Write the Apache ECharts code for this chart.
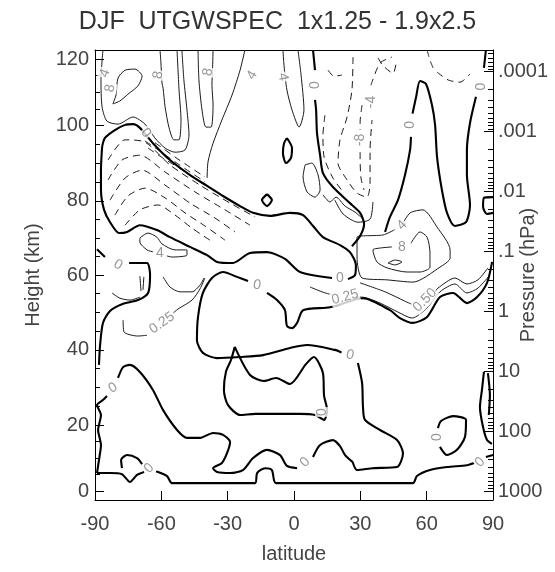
<!DOCTYPE html>
<html>
<head>
<meta charset="utf-8">
<script src="https://cdn.jsdelivr.net/npm/echarts@6/dist/echarts.min.js"></script>
<style>
  html, body { margin: 0; padding: 0; background: #fff; }
  #chart { width: 555px; height: 572px; }
</style>
</head>
<body>
<div id="chart"></div>
<script>
// DJF UTGWSPEC difference, 1x1.25 minus 1.9x2.5, latitude / log-pressure cross section.
// Vertical coordinate: log-pressure altitude z = H ln(1000/p) in km.
const H = 6.95;
const FONT = '"Liberation Sans", Arial, Helvetica, sans-serif';

// ---- axes ----
const latTicks = [-90, -60, -30, 0, 30, 60, 90];
const pressureTicks = [1000, 100, 10, 1, 0.1, 0.01, 0.001, 0.0001];
const pressureTickText = ['1000', '100', '10', '1', '.1', '.01', '.001', '.0001'];
const heightTicks = [0, 20, 40, 60, 80, 100, 120];
const heightTickZ = [0, 17.6, 37.7, 57.7, 77.5, 97.6, 115.4];
const zRange = [-2.4, 117.8];

// ---- zero contours (thick) : [latitude, z km] ----
const zeroGround = [[-89.1,4.8],[-83.2,4.8],[-77.8,4.5],[-74.2,2.4],[-71.0,4.3],[-67.8,5.1]];
const zeroGroundMid = [[-62.4,5.3],[-57.4,4.0],[-55.2,2.1],[-17.6,2.1],[-16.7,4.8],[-13.1,6.1],[-10.0,5.6],[-8.1,2.1],[53.8,2.1],[55.6,4.0],[61.5,5.6],[69.2,6.4],[78.2,6.9],[81.4,7.5]];
const zeroGroundEnd = [[86.8,9.1],[90,9.6]];
const zeroGroundLoop = [[-77.8,6.1],[-78.2,8.3],[-75.5,9.6],[-71.0,8.8],[-68.7,7.2]];
const zeroTropoSH = [[-89.1,4.8],[-88.2,8.3],[-87.3,12.3],[-88.6,16.3],[-87.3,20.3],[-89.1,23.0],[-86.4,24.3],[-84.6,25.4]];
const zeroStratSH = [[-79.6,30.2],[-77.3,33.1],[-74.2,33.7],[-69.7,31.8],[-63.8,27.0],[-59.2,21.6],[-52.9,16.3],[-48.4,14.2],[-42.5,14.2],[-36.6,15.5],[-32.1,15.0],[-28.9,13.1],[-30.3,10.1],[-32.6,7.5],[-36.6,6.1],[-34.8,5.1],[-28.9,4.8],[-23.1,5.6],[-18.5,8.8],[-12.2,11.0],[-6.3,9.6],[-3.2,6.7],[1.4,6.1]];
const zeroLowEq = [[8.6,9.1],[11.8,12.3],[17.6,13.6],[20.8,12.0],[23.1,9.6],[26.5,7.8]];
const zeroStratLoop = [[-26.8,38.5],[-28.5,35.0],[-30.8,31.8],[-31.7,27.0],[-29.9,23.0],[-24.4,20.3],[-17.6,20.6],[-6.3,20.6],[2.7,20.6],[9.5,20.3],[13.6,19.0],[15.0,21.6],[13.6,25.4],[13.1,31.5],[9.0,35.8],[5.4,33.9],[-1.8,28.6],[-8.1,30.2],[-13.6,29.4],[-19.9,31.0],[-26.8,38.5]];
const zeroMidBand = [[89.6,61.2],[87.3,55.6],[82.8,51.8],[78.2,50.2],[71.9,52.9],[66.0,51.8],[60.2,46.5],[53.8,44.9],[47.9,46.2],[43.4,48.3],[31.2,51.5],[16.3,49.1],[4.1,48.3],[1.4,44.9],[-0.9,43.5],[-3.2,44.1],[-4.1,48.3],[-7.7,51.0],[-12.2,52.9]];
const zeroMidBandB = [[-20.8,56.1],[-25.8,57.2],[-32.1,58.5],[-37.1,56.9],[-41.2,52.9],[-43.4,46.5],[-43.9,40.3],[-41.2,36.9],[-34.8,35.5],[-24.4,35.8],[-14.0,36.3],[-1.8,38.2],[5.9,39.0],[18.5,37.7],[21.5,37.0]];
const zeroMidBandC = [[28.9,34.2],[30.8,28.8],[31.2,22.4],[32.1,19.0],[38.9,16.3],[46.6,13.6],[49.3,10.1],[46.6,6.4],[35.7,6.1],[28.5,5.6],[26.5,7.8]];
const zeroMesoSH = [[-86.8,91.9],[-85.5,94.3],[-81.0,96.4],[-76.4,97.8],[-72.8,98.0],[-69.7,97.0],[-63.8,92.9],[-56.1,88.4],[-47.0,84.4],[-39.3,81.5],[-32.1,78.8],[-24.4,76.1],[-18.5,74.3],[-10.9,73.5],[-1.8,74.3],[4.1,73.7],[8.6,70.8],[13.1,67.8],[20.8,65.7],[25.3,63.8],[28.0,60.4],[27.6,57.7],[24.4,56.6]];
const zeroMesoSHb = [[17.2,56.9],[2.7,58.5],[-4.1,62.0],[-12.2,63.8],[-19.9,63.6],[-27.6,60.9],[-34.8,61.2],[-39.3,63.0],[-47.0,65.2],[-56.1,67.8],[-62.0,69.7],[-69.7,71.0],[-75.5,69.2],[-79.1,68.9],[-83.2,71.8],[-85.9,75.1],[-87.3,80.4],[-87.3,85.7],[-86.8,91.9]];
const zeroEquatorTop = [[8.6,117.8],[9.5,112.4]];
const zeroEquator = [[9.5,104.5],[10.0,101.8],[10.4,95.6],[11.8,89.7],[13.1,84.9],[17.6,81.2],[25.3,76.9],[29.9,74.3],[31.7,71.3],[29.9,68.1],[26.2,65.4]];
const zeroSpike = [[41.2,69.2],[43.4,73.2],[47.0,77.7],[50.2,84.4],[52.5,91.1],[52.9,94.6]];
const zeroSpikeB = [[53.6,100.8],[55.2,105.2],[57.0,109.5],[59.7,108.7],[62.4,103.1],[63.8,97.8],[64.7,89.2],[66.9,80.4],[69.2,74.3],[72.8,70.8],[77.8,71.8],[79.6,76.4],[78.2,84.4],[78.2,91.1],[79.6,98.3],[82.3,105.3]];
const zeroSpikeTop = [[85.9,113.0],[86.8,117.8]];
const zeroLoopNH = [[66.0,11.8],[69.2,9.6],[73.7,11.0],[77.3,14.4],[77.8,19.0],[71.9,20.0],[66.5,18.7],[65.1,16.8]];
const zeroEdgeNH = [[85.9,31.8],[85.0,27.0],[84.1,22.4],[85.5,17.1],[87.3,13.6],[89.5,12.6]];
const zeroEdgeNHb = [[87.7,31.5],[88.6,25.6],[88.1,20.3]];
const zeroEdgeMeso = [[90,78.5],[85.9,78.3],[85.5,75.9],[87.3,74.0],[90,74.3]];
const zeroEdgeSH = [[-89.1,64.6],[-85.5,62.5]];
const zeroEdgeSHb = [[-74.6,60.9],[-66.5,60.9],[-65.1,57.7],[-66.0,52.9],[-70.6,51.0],[-77.8,49.9],[-83.2,48.1],[-86.4,44.9],[-87.7,39.0],[-88.2,33.7]];
const zeroDiamond = [[-12.2,79.3],[-10.0,77.7],[-12.2,76.1],[-14.5,77.7],[-12.2,79.3]];
const zeroOval = [[-3.2,94.3],[-0.9,91.6],[-1.4,88.9],[-3.6,87.6],[-5.0,90.3],[-4.5,92.9],[-3.2,94.3]];

// ---- positive contours (thin solid) ----
const pos4SH = [[-86.4,117.8],[-87.3,109.8],[-86.8,102.6],[-84.6,98.8],[-79.6,98.0],[-72.8,99.9],[-67.4,98.0],[-62.9,94.3],[-58.3,91.6],[-53.8,90.5],[-49.3,91.1],[-47.5,95.1],[-48.4,101.8],[-49.8,109.8],[-50.7,117.8]];
const pos8SHa = [[-81.9,103.4],[-80.5,105.8],[-79.6,110.3],[-76.4,112.4],[-71.9,112.7],[-68.7,110.8],[-70.6,108.2],[-75.1,106.0],[-78.7,104.2],[-81.9,103.4]];
const pos8SHb = [[-60.6,117.8],[-60.2,114.6],[-59.7,109.0],[-59.2,107.6],[-58.3,102.6],[-56.5,97.0],[-54.3,93.8],[-52.0,93.8],[-51.1,99.1],[-52.0,107.1],[-52.9,117.8]];
const pos8SHc = [[-43.4,117.8],[-43.0,109.8],[-41.6,101.8],[-39.8,97.2],[-37.5,97.2],[-36.6,103.1],[-37.1,108.4],[-36.8,113.5],[-36.6,117.8]];
const pos4Eq = [[-22.2,117.8],[-24.4,112.4],[-28.0,105.8],[-32.6,99.1],[-36.6,92.9],[-38.9,87.9],[-39.3,83.6]];
const pos4EqB = [[-5.0,117.8],[-4.5,113.6],[-3.2,107.1],[-0.9,101.8],[2.3,97.2],[4.5,101.8],[3.2,111.1],[1.8,117.8]];
const posLoopEq = [[5.0,87.1],[8.1,87.6],[10.9,84.4],[11.8,80.4],[9.5,78.5],[5.9,79.9],[4.1,83.9],[5.0,87.1]];
const posWaveEq = [[13.1,79.1],[16.3,77.2],[19.0,78.5],[23.1,76.1],[27.6,74.5],[30.8,72.9]];
const posUEq = [[18.5,77.7],[22.2,74.0],[28.9,71.8],[34.4,72.6],[35.7,77.2]];
const pos4NH = [[48.8,71.0],[52.5,74.3],[58.3,75.1],[64.7,70.5],[70.6,64.4],[70.6,62.2],[66.0,59.8],[53.8,55.8],[42.1,56.4],[30.8,56.9],[28.5,62.5],[28.5,67.8],[40.3,68.4],[45.5,69.8]];
const pos8NH = [[52.9,66.2],[57.0,69.2],[60.2,67.8],[61.5,63.6],[61.5,59.8],[57.0,58.5],[51.1,58.5],[42.1,59.6],[37.5,61.2],[35.7,64.4],[38.9,64.9],[44.3,65.2]];
const pos8NHcore = [[42.5,60.9],[45.7,61.7],[48.8,61.2],[45.7,60.4],[42.5,60.9]];
const pos025NH = [[7.2,54.5],[12.7,53.2],[17.0,52.4]];
const pos025NHb = [[28.0,51.8],[30.8,51.8],[38.9,50.2],[47.0,47.8],[53.4,46.2],[60.2,48.9],[66.0,53.2],[72.8,55.3],[78.2,52.9],[83.2,54.2],[88.6,57.7]];
const pos050NH = [[29.9,55.6],[41.2,53.2],[50.2,50.7],[53.5,49.8]];
const pos050NHb = [[63.5,53.0],[65.1,54.2],[72.8,56.9],[78.2,55.3],[83.2,56.4],[87.7,59.6]];
const pos025SH = [[-77.3,45.7],[-76.9,42.5],[-70.6,41.4],[-66.5,41.6]];
const pos025SHb = [[-54.5,47.6],[-52.5,48.6],[-46.1,51.0],[-42.5,54.0],[-40.3,56.9]];
const pos4SHband = [[-69.7,67.6],[-66.0,68.9],[-62.0,67.8],[-59.7,66.0],[-53.8,64.4],[-48.4,64.4],[-48.4,63.0],[-55.2,62.5],[-57.5,62.8]];
const pos4SHbandB = [[-63.8,63.9],[-66.5,64.4],[-69.7,66.5],[-69.7,67.6]];
const posUSH = [[-59.2,57.2],[-56.1,54.5],[-51.6,53.2],[-46.1,53.2],[-42.5,55.0],[-40.7,56.9]];
const posBarsSH = [[-69.7,57.4],[-69.2,53.4]];
const posBarsSHb = [[-67.9,57.2],[-68.3,53.7]];
const posSmallSH = [[-82.3,52.9],[-78.7,51.5],[-74.2,51.0],[-69.7,51.8]];

// ---- negative contours (thin dashed) ----
const neg4NH = [[26.7,115.9],[26.2,107.1],[24.0,99.9],[20.8,93.8],[19.9,87.6],[24.0,83.1],[28.5,79.6],[33.0,78.5],[34.4,82.3],[34.4,91.1],[35.3,99.1]];
const neg4NHb = [[34.8,108.4],[38.9,114.3],[44.3,115.9]];
const neg8NH = [[30.8,103.1],[29.9,98.6],[29.9,96.5]];
const neg8NHb = [[29.9,90.5],[29.9,88.9],[30.3,83.6],[31.7,80.4]];
const negOuterNH = [[14.0,100.4],[13.1,95.1],[13.6,89.2],[17.6,83.6],[22.2,79.9]];
const negArcA = [[15.4,112.4],[18.1,110.8],[21.7,111.1]];
const negArcB = [[38.0,115.7],[40.3,113.6],[44.8,111.6],[46.2,114.3]];
const negArcC = [[64.7,111.9],[69.7,109.8],[75.1,109.2],[79.6,111.4]];
const negArcD = [[60.2,117.8],[61.5,115.1],[62.9,113.0]];
const negSH1 = [[-84.1,88.4],[-76.4,93.8],[-67.4,93.2],[-56.1,87.1],[-42.5,81.7],[-28.9,76.9],[-17.6,73.2]];
const negSH2 = [[-84.1,83.1],[-77.8,88.4],[-69.7,89.7],[-58.3,85.2],[-44.8,79.9],[-31.2,75.1],[-19.9,71.0]];
const negSH3 = [[-83.2,77.7],[-76.4,83.6],[-68.7,85.7],[-58.3,81.7],[-47.0,76.9],[-35.7,72.9],[-26.7,69.2]];
const negSH4 = [[-81.0,73.7],[-75.1,78.8],[-67.4,80.9],[-58.3,78.3],[-49.3,74.3],[-40.3,70.8],[-31.2,67.0]];
const negSH5 = [[-76.4,71.0],[-69.7,75.1],[-61.5,76.4],[-53.8,73.7],[-46.1,70.2],[-38.0,67.0]];
const negJet1 = [[-67.4,94.8],[-60.6,92.1],[-53.8,89.2],[-47.0,86.5],[-40.3,83.9]];
const negJet2 = [[-67.4,93.5],[-60.6,90.8],[-53.8,87.9],[-47.0,85.2],[-40.3,82.6]];
const negJet3 = [[-66.0,91.6],[-59.2,88.9],[-52.5,86.5],[-45.7,83.9],[-38.9,81.2]];

// ---- contour labels ----
const labelText = ['4','8','8','8','4','4','0','-4','-8','0','0','0','4','0','0','0.25','0','4','8','0.25','0.50','0','0','0','0','0','0','0'];
const labelAt = [[-85.5,111.6],[-83.2,107.6],[-61.5,111.1],[-38.9,111.9],[-19.0,111.1],[-5.0,110.6],[9.5,108.4],[34.8,103.9],[29.9,93.8],[52.5,97.8],[84.6,108.0],[-66.9,95.6],[-60.6,63.6],[-79.6,60.4],[-16.7,55.0],[-59.7,44.9],[20.8,56.9],[48.8,71.0],[48.8,65.2],[23.1,51.8],[59.2,51.0],[-81.9,27.5],[-65.6,6.1],[25.3,36.3],[12.7,21.1],[5.0,7.7],[64.7,14.4],[84.1,7.7]];
const labelAngle = [70,80,80,80,60,-80,90,90,90,90,90,-50,0,-30,-10,35,0,45,0,15,45,30,45,-15,90,45,90,45];

// ---- build ----
const zOfP = p => H * Math.log(1000 / p);
const pressureZ = pressureTicks.map(zOfP);
const minorPressureZ = [];
for (let e = -5; e <= 3; e++) {
  for (let k = 2; k <= 9; k++) {
    const z = zOfP(k * Math.pow(10, e));
    if (z > zRange[0] && z < zRange[1]) minorPressureZ.push(z);
  }
}
const minorHeightZ = [];
for (let i = 0; i < heightTickZ.length - 1; i++) {
  for (let j = 1; j < 4; j++) {
    minorHeightZ.push(heightTickZ[i] + (heightTickZ[i + 1] - heightTickZ[i]) * j / 4);
  }
}

const styles = {
  zero: { color: '#000', width: 2.1, type: 'solid' },
  pos: { color: '#1a1a1a', width: 1, type: 'solid' },
  neg: { color: '#1a1a1a', width: 1, type: [7, 5] }
};
function contour(data, kind) {
  return {
    type: 'line', data: data, symbol: 'none', smooth: 0.25, silent: true,
    lineStyle: styles[kind], z: kind === 'zero' ? 4 : 3, clip: true
  };
}

const zeroSet = [zeroGround, zeroGroundMid, zeroGroundEnd, zeroGroundLoop, zeroTropoSH, zeroStratSH, zeroLowEq, zeroStratLoop,
  zeroMidBand, zeroMidBandB, zeroMidBandC, zeroMesoSH, zeroMesoSHb, zeroEquatorTop, zeroEquator, zeroSpike, zeroSpikeB, zeroSpikeTop,
  zeroLoopNH, zeroEdgeNH, zeroEdgeNHb, zeroEdgeMeso, zeroEdgeSH, zeroEdgeSHb, zeroDiamond, zeroOval];
const posSet = [pos4SH, pos8SHa, pos8SHb, pos8SHc, pos4Eq, pos4EqB, posLoopEq, posWaveEq, posUEq, pos4NH, pos8NH, pos8NHcore,
  pos025NH, pos025NHb, pos050NH, pos050NHb, pos025SH, pos025SHb, pos4SHband, pos4SHbandB, posUSH, posBarsSH, posBarsSHb, posSmallSH];
const negSet = [neg4NH, neg4NHb, neg8NH, neg8NHb, negOuterNH, negArcA, negArcB, negArcC, negArcD,
  negSH1, negSH2, negSH3, negSH4, negSH5, negJet1, negJet2, negJet3];

const series = [];
zeroSet.forEach(d => series.push(contour(d, 'zero')));
posSet.forEach(d => series.push(contour(d, 'pos')));
negSet.forEach(d => series.push(contour(d, 'neg')));
series.push({
  type: 'scatter', symbolSize: 0, silent: true, z: 10,
  data: labelText.map((t, i) => ({
    value: labelAt[i], name: t,
    label: { rotate: labelAngle[i] }
  })),
  label: {
    show: true, position: 'inside', formatter: p => p.name,
    fontFamily: FONT, fontSize: 14, color: '#7d7d7d',
    backgroundColor: '#fff', padding: [0, 1]
  }
});

const axisLineStyle = { color: '#000', width: 1 };
const tickFont = { fontFamily: FONT, fontSize: 20, color: '#444' };
const chart = echarts.init(document.getElementById('chart'), null, { renderer: 'canvas' });
chart.setOption({
  animation: false,
  backgroundColor: '#fff',
  title: {
    text: 'DJF  UTGWSPEC  1x1.25 - 1.9x2.5',
    left: 'center', top: 5,
    textStyle: { fontFamily: FONT, fontSize: 25, fontWeight: 'normal', color: '#333' }
  },
  grid: { left: 95, right: 62, top: 50, bottom: 72, containLabel: false, outerBoundsMode: 'none' },
  xAxis: [{
    type: 'value', min: -90, max: 90, interval: 30, position: 'bottom',
    axisLine: { show: true, onZero: false, lineStyle: axisLineStyle },
    axisTick: { show: true, inside: true, length: 9, lineStyle: axisLineStyle },
    axisLabel: Object.assign({ margin: 14 }, tickFont),
    splitLine: { show: false },
    name: 'latitude', nameLocation: 'middle', nameGap: 44, nameMoveOverlap: false,
    nameTextStyle: tickFont
  }, {
    type: 'value', min: -90, max: 90, interval: 30, position: 'top',
    axisLine: { show: true, onZero: false, lineStyle: axisLineStyle },
    axisTick: { show: false }, axisLabel: { show: false }, splitLine: { show: false }
  }],
  yAxis: [{
    type: 'value', min: zRange[0], max: zRange[1], position: 'left',
    axisLine: { show: true, onZero: false, lineStyle: axisLineStyle },
    axisTick: { show: true, inside: true, length: 9, lineStyle: axisLineStyle, customValues: heightTickZ },
    axisLabel: Object.assign({
      margin: 6, customValues: heightTickZ,
      formatter: v => { const i = heightTickZ.findIndex(z => Math.abs(z - v) < 1e-6); return i < 0 ? '' : String(heightTicks[i]); }
    }, tickFont),
    splitLine: { show: false },
    name: 'Height (km)', nameLocation: 'middle', nameGap: 52, nameRotate: 90, nameMoveOverlap: false,
    nameTextStyle: tickFont
  }, {
    type: 'value', min: zRange[0], max: zRange[1], position: 'left',
    axisLine: { show: false, onZero: false },
    axisTick: { show: true, inside: true, length: 5, lineStyle: axisLineStyle, customValues: minorHeightZ },
    axisLabel: { show: false }, splitLine: { show: false }
  }, {
    type: 'value', min: zRange[0], max: zRange[1], position: 'right',
    axisLine: { show: true, onZero: false, lineStyle: axisLineStyle },
    axisTick: { show: true, inside: true, length: 9, lineStyle: axisLineStyle, customValues: pressureZ },
    axisLabel: Object.assign({
      margin: 5, customValues: pressureZ,
      formatter: v => { const i = pressureZ.findIndex(z => Math.abs(z - v) < 1e-6); return i < 0 ? '' : pressureTickText[i]; }
    }, tickFont),
    splitLine: { show: false },
    name: 'Pressure (hPa)', nameLocation: 'middle', nameGap: 25, nameRotate: 90, nameMoveOverlap: false,
    nameTextStyle: tickFont
  }, {
    type: 'value', min: zRange[0], max: zRange[1], position: 'right',
    axisLine: { show: false, onZero: false },
    axisTick: { show: true, inside: true, length: 5, lineStyle: axisLineStyle, customValues: minorPressureZ },
    axisLabel: { show: false }, splitLine: { show: false }
  }],
  series: series
});
</script>
</body>
</html>
